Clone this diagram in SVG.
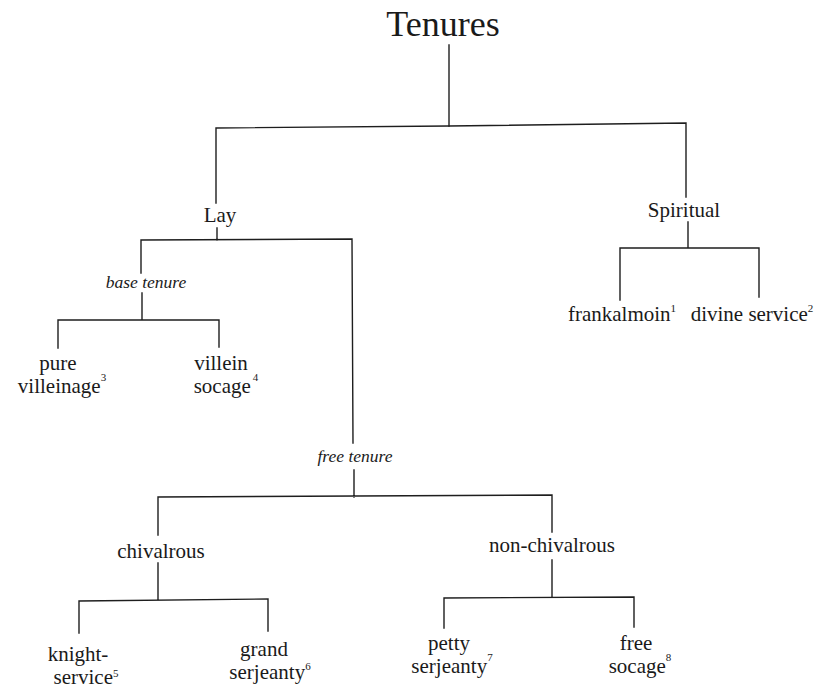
<svg xmlns="http://www.w3.org/2000/svg" width="837" height="695" viewBox="0 0 837 695">
<style>
.ln{stroke:#1e1e1e;stroke-width:1.4;fill:none;stroke-linecap:square}
text{font-family:"Liberation Serif","Times New Roman",serif;fill:#1a1a1a;text-anchor:middle;font-size:21px}
.title{font-size:36px}
.it{font-style:italic;font-size:17.5px}
.sup{font-size:11px}
</style>
<rect width="837" height="695" fill="#ffffff"/>
<g id="connectors">
<path class="ln" d="M449,45V126"/>
<path class="ln" d="M216,203V128L449,126L686,123V197"/>
<path class="ln" d="M688,222V248M620,300V248H759V297"/>
<path class="ln" d="M217,228V240M141,273V240L352,239L353,443"/>
<path class="ln" d="M142,293V320M58,348V320H219V347"/>
<path class="ln" d="M354,470V497M158,535V497L552,495V532"/>
<path class="ln" d="M158,563V600M79,633V601L268,599V631"/>
<path class="ln" d="M552,560V597M444,628V598L634,597V627"/>
</g>
<g id="n-tenures"><text class="title" x="443" y="36">Tenures</text></g>
<g id="n-lay"><text x="220" y="222">Lay</text></g>
<g id="n-spiritual"><text x="684" y="217">Spiritual</text></g>
<g id="n-frankalmoin"><text x="622" y="321">frankalmoin<tspan class="sup" dy="-9">1</tspan></text></g>
<g id="n-divine"><text x="752" y="321">divine service<tspan class="sup" dy="-9">2</tspan></text></g>
<g id="n-base"><text class="it" x="146" y="288">base tenure</text></g>
<g id="n-pure"><text x="58" y="370">pure</text><text x="62" y="393">villeinage<tspan class="sup" dy="-12">3</tspan></text></g>
<g id="n-villein"><text x="221" y="370">villein</text><text x="226" y="393">socage<tspan class="sup" dy="-12" dx="2">4</tspan></text></g>
<g id="n-free"><text class="it" x="355" y="462">free tenure</text></g>
<g id="n-chivalrous"><text x="161" y="558">chivalrous</text></g>
<g id="n-nonchivalrous"><text x="552" y="552">non-chivalrous</text></g>
<g id="n-knight"><text x="78" y="661">knight-</text><text x="86" y="684">service<tspan class="sup" dy="-7">5</tspan></text></g>
<g id="n-grand"><text x="264" y="656">grand</text><text x="270" y="679">serjeanty<tspan class="sup" dy="-9">6</tspan></text></g>
<g id="n-petty"><text x="449" y="650">petty</text><text x="452" y="673">serjeanty<tspan class="sup" dy="-12">7</tspan></text></g>
<g id="n-freesocage"><text x="636" y="650">free</text><text x="640" y="673">socage<tspan class="sup" dy="-12">8</tspan></text></g>
</svg>
